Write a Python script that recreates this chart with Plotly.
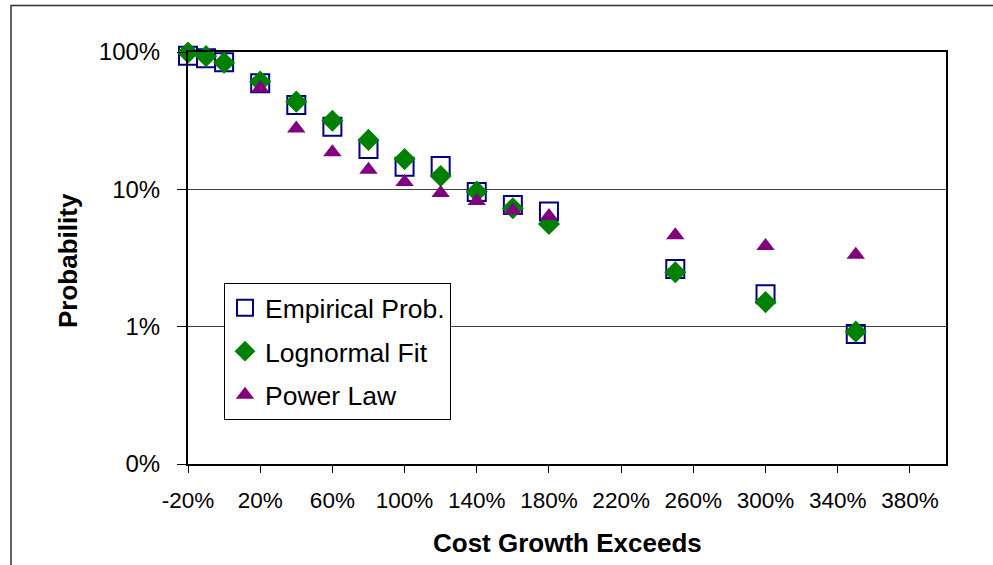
import plotly.graph_objects as go

# ---- data (cost growth in %, probability as fraction) ----
x_emp = [-20, -10, 0, 20, 40, 60, 80, 100, 120, 140, 160, 180, 250, 300, 350]
p_emp = [0.94, 0.90, 0.843, 0.593, 0.412, 0.286, 0.197, 0.146, 0.148, 0.0957, 0.077, 0.069, 0.0263, 0.0172, 0.00885]

x_logn = [-20, -10, 0, 20, 40, 60, 80, 100, 120, 140, 160, 180, 250, 300, 350]
p_logn = [0.99, 0.933, 0.836, 0.609, 0.435, 0.316, 0.229, 0.166, 0.125, 0.0962, 0.0728, 0.056, 0.0249, 0.0151, 0.0092]

x_pow = [20, 40, 60, 80, 100, 120, 140, 160, 180, 250, 300, 350]
p_pow = [0.545, 0.277, 0.186, 0.139, 0.113, 0.094, 0.0823, 0.070, 0.064, 0.0463, 0.0387, 0.0334]

x_tickvals = [-20, 20, 60, 100, 140, 180, 220, 260, 300, 340, 380]
x_ticktext = ["-20%", "20%", "60%", "100%", "140%", "180%", "220%", "260%", "300%", "340%", "380%"]
y_tickvals = [1, 0.1, 0.01, 0.001]
y_ticktext = ["100%", "10%", "1%", "0%"]

FONT = "Liberation Sans, Arial, sans-serif"

fig = go.Figure()
fig.add_trace(go.Scatter(
    x=x_emp, y=p_emp, mode="markers", name="Empirical Prob.", legendgroup="a",
    marker=dict(symbol="square-open", size=18, color="#000080", line=dict(width=2, color="#000080")),
    cliponaxis=False,
))
fig.add_trace(go.Scatter(
    x=x_logn, y=p_logn, mode="markers", name="Lognormal Fit", legendgroup="b",
    marker=dict(symbol="diamond", size=17, color="#008000", line=dict(width=0)),
    cliponaxis=False,
))
fig.add_trace(go.Scatter(
    x=x_pow, y=p_pow, mode="markers", name="Power Law", legendgroup="c",
    marker=dict(symbol="triangle-up", size=16, color="#800080", line=dict(width=0)),
    cliponaxis=False,
))

L, R, T, B = 188, 47, 52, 101
W, H = 993, 565
pw, ph = W - L - R, H - T - B

def px(xp):
    return (xp - L) / pw

def py(yp):
    return (H - B - yp) / ph

fig.update_layout(
    width=W, height=H,
    margin=dict(l=L, r=R, t=T, b=B, pad=0),
    paper_bgcolor="white", plot_bgcolor="white",
    font=dict(family=FONT, color="black"),
    showlegend=True,
    legend=dict(
        x=px(224), y=py(283), xanchor="left", yanchor="top",
        bgcolor="white", bordercolor="black", borderwidth=1,
        font=dict(family=FONT, size=26.5, color="black"),
        tracegroupgap=6, itemsizing="trace",
    ),
    xaxis=dict(
        range=[-20, 400], tickmode="array", tickvals=x_tickvals, ticktext=x_ticktext,
        showgrid=False, zeroline=False,
        showline=True, linecolor="black", linewidth=2, mirror=True,
        ticks="outside", ticklen=7, tickcolor="black", tickwidth=1,
        tickfont=dict(family=FONT, size=22.5, color="black"),
        ticklabelstandoff=8,
    ),
    yaxis=dict(
        type="log", range=[-3, 0], tickmode="array", tickvals=y_tickvals, ticktext=y_ticktext,
        showgrid=True, gridcolor="#404040", gridwidth=1, zeroline=False,
        showline=True, linecolor="black", linewidth=2, mirror=True,
        ticks="outside", ticklen=9, tickcolor="black", tickwidth=1,
        tickfont=dict(family=FONT, size=24, color="black"),
        ticklabelstandoff=12,
    ),
    annotations=[
        dict(text="<b>Cost Growth Exceeds</b>", xref="paper", yref="paper",
             x=0.5, y=py(542.7), xanchor="center", yanchor="middle", showarrow=False,
             font=dict(family=FONT, size=26, color="black")),
        dict(text="<b>Probability</b>", xref="paper", yref="paper",
             x=px(68), y=py(260), xanchor="center", yanchor="middle", showarrow=False,
             textangle=-90, font=dict(family=FONT, size=26, color="black")),
    ],
    shapes=[
        dict(type="rect", xref="paper", yref="paper",
             x0=px(11), y0=py(600), x1=px(1010), y1=py(5.5),
             line=dict(color="#333333", width=1.5), fillcolor="rgba(0,0,0,0)", layer="below"),
    ],
)

fig.write_html("out.html")
